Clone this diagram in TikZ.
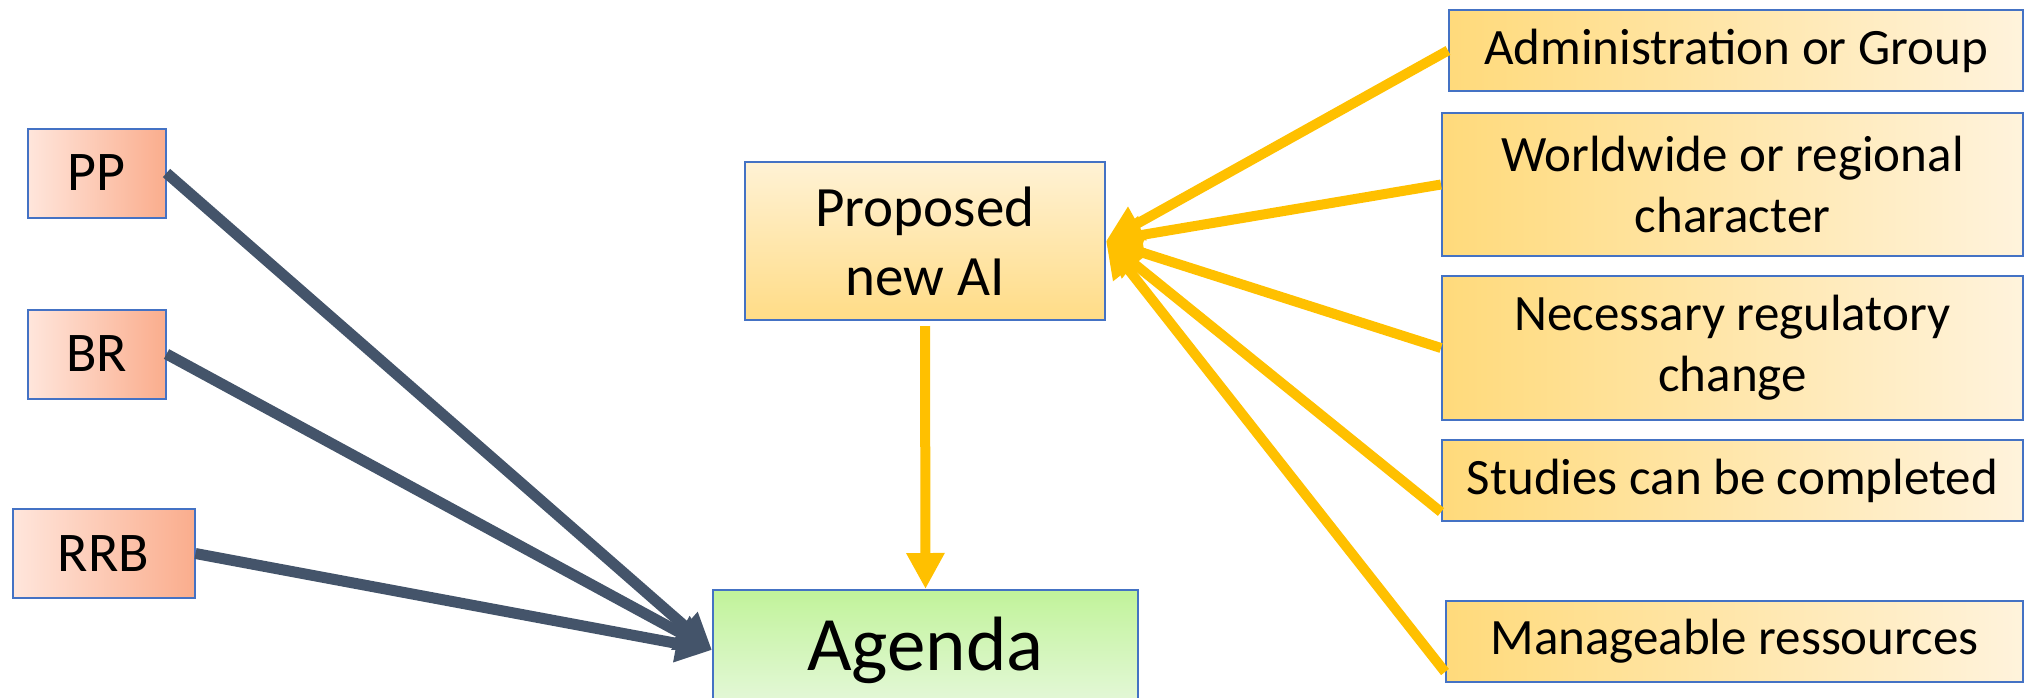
\documentclass[tikz,border=0pt]{standalone}
\usepackage{fontspec}
\setmainfont{Carlito}
\usetikzlibrary{positioning, arrows.meta}

\definecolor{boxline}{HTML}{4472C4}
\definecolor{slate}{HTML}{44546A}
\definecolor{gold}{HTML}{FFC000}
\definecolor{peachL}{HTML}{FFE6DC}
\definecolor{peachR}{HTML}{FAAD8D}
\definecolor{sandT}{HTML}{FFF2D5}
\definecolor{sandB}{HTML}{FFDC86}
\definecolor{sandL}{HTML}{FFDA7B}
\definecolor{sandR}{HTML}{FFF3DC}
\definecolor{leafT}{HTML}{C1F39A}
\definecolor{leafB}{HTML}{E6F8DC}

\begin{document}
\begin{tikzpicture}[x=0.5pt, y=-0.5pt,
    srcbox/.style={rectangle, draw=boxline, line width=1pt, inner sep=0pt,
                   left color=peachL, right color=peachR,
                   minimum width=69pt, minimum height=44.5pt, font=\fontsize{28}{33}\selectfont},
    critbox/.style={rectangle, draw=boxline, line width=1pt, inner sep=0pt, align=center,
                    left color=sandL, right color=sandR,
                    minimum width=290.5pt, minimum height=40.5pt, font=\fontsize{25.5}{30.5}\selectfont},
    darrow/.style={-{Triangle[length=18pt, width=18pt]}, line width=5.5pt, slate},
    garrow/.style={-{Triangle[length=18pt, width=18pt]}, line width=5pt, gold}
]
    \useasboundingbox (0,0) rectangle (2027,697);

    % Sources
    \node[srcbox] (pp) at (96.5, 173) {PP};
    \node[srcbox] (br) at (96.5, 354) {BR};
    \node[srcbox, minimum width=91pt] (rrb) at (103.5, 553.5) {RRB};

    % Proposed item and agenda
    \node[rectangle, draw=boxline, line width=1pt, inner sep=0pt, align=center,
          top color=sandT, bottom color=sandB, minimum width=180pt, minimum height=79pt,
          font=\fontsize{28.5}{34.5}\selectfont] (prop) at (925, 241) {Proposed\\new AI};
    \node[rectangle, draw=boxline, line width=1pt, inner sep=0pt,
          top color=leafT, bottom color=leafB, minimum width=212.5pt, minimum height=60pt,
          font=\fontsize{38.5}{45}\selectfont] (agenda) at (925.5, 650) {Agenda};

    % Criteria
    \node[critbox, minimum width=287pt] (admin) at (1736, 50.5) {Administration or Group};
    \node[critbox, minimum height=71.5pt] (world) at (1732.5, 184.5) {Worldwide or regional\\character};
    \node[critbox, minimum height=72pt] (regul) at (1732.5, 348) {Necessary regulatory\\change};
    \node[critbox] (study) at (1732.5, 480.5) {Studies can be completed};
    \node[critbox, minimum width=288.5pt] (res) at (1734.5, 641.5) {Manageable ressources};

    % Arrows
    \draw[darrow] (pp.east) -- (agenda.west);
    \draw[darrow] (br.east) -- (agenda.west);
    \draw[darrow] (rrb.east) -- (agenda.west);
    \draw[garrow] (admin.west) -- (prop.east);
    \draw[garrow] (world.west) -- (prop.east);
    \draw[garrow] (regul.west) -- (prop.east);
    \draw[garrow] ([yshift=5pt]study.south west) -- (prop.east);
    \draw[garrow] ([yshift=5.5pt]res.south west) -- (prop.east);
    \draw[garrow, shorten <=2.5pt] (prop.south) -- (agenda.north);

\end{tikzpicture}
\end{document}
